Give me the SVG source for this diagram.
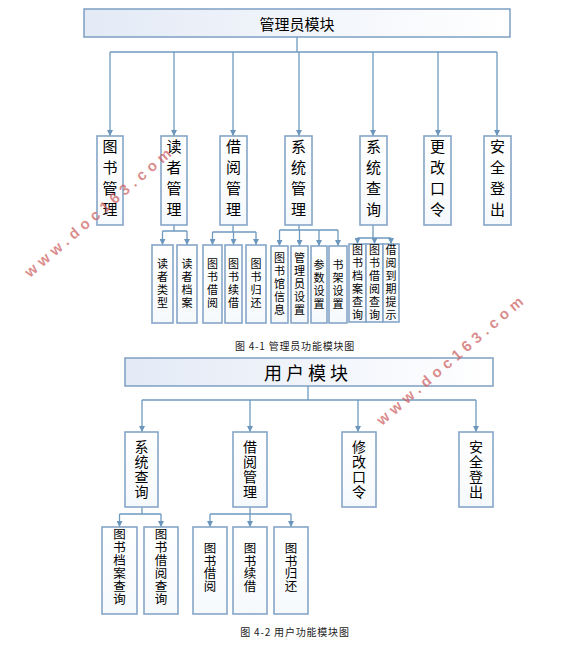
<svg xmlns="http://www.w3.org/2000/svg" width="571" height="645" viewBox="0 0 571 645">
<defs>
<linearGradient id="hdr" x1="0" y1="0" x2="1" y2="0">
<stop offset="0" stop-color="#e3eaf6"/>
<stop offset="1" stop-color="#ffffff"/>
</linearGradient>
<linearGradient id="bx" x1="0" y1="0" x2="0" y2="1">
<stop offset="0" stop-color="#ffffff"/>
<stop offset="1" stop-color="#f6f9fc"/>
</linearGradient>
<marker id="ah" markerUnits="userSpaceOnUse" markerWidth="7" markerHeight="6" refX="6" refY="3" orient="auto">
<path d="M0,0 L6,3 L0,6 Z" fill="#6b96bd"/>
</marker>
</defs>
<style>
.hdr{fill:url(#hdr);stroke:#7d9fc2;stroke-width:1.5}
.bx{fill:url(#bx);stroke:#86a6c8;stroke-width:1.6}
.t{font-family:"Noto Sans CJK SC","Noto Sans",sans-serif;fill:#000;text-anchor:middle;dominant-baseline:central}
.v{font-family:"Noto Sans CJK SC","Noto Sans",sans-serif;fill:#000;text-anchor:middle;writing-mode:vertical-rl;text-orientation:upright}
.l1{font-size:15px;letter-spacing:6px}
.l2{font-size:11px;letter-spacing:2px}
.u1{font-size:14px;letter-spacing:1px}
.u2{font-size:12.5px;letter-spacing:0.4px}
.cap{font-family:"Noto Sans CJK SC","Noto Sans",sans-serif;font-size:10px;fill:#222;text-anchor:middle;dominant-baseline:central;letter-spacing:0.8px}
.ln{fill:none;stroke:#6f9ac0;stroke-width:1.3}
.ar{marker-end:url(#ah)}
.wm{font-family:"Liberation Sans",Arial,sans-serif;font-weight:bold;font-size:15px;fill:#cc5f5f;fill-opacity:0.72;text-anchor:middle;dominant-baseline:central}
</style>

<g id="connectors">
<path class="ln" d="M297 37 V52 M110 52 H497"/>
<path class="ln ar" d="M110 52 V136"/>
<path class="ln ar" d="M174 52 V136"/>
<path class="ln ar" d="M233 52 V136"/>
<path class="ln ar" d="M299 52 V136"/>
<path class="ln ar" d="M373 52 V136"/>
<path class="ln ar" d="M438 52 V136"/>
<path class="ln ar" d="M497 52 V136"/>
<path class="ln" d="M174 225 V231 M162.5 231 H187"/>
<path class="ln ar" d="M162.5 231 V245"/>
<path class="ln ar" d="M187 231 V245"/>
<path class="ln" d="M233 225 V232 M212.5 232 H256"/>
<path class="ln ar" d="M212.5 232 V245"/>
<path class="ln ar" d="M233.5 232 V245"/>
<path class="ln ar" d="M256 232 V245"/>
<path class="ln" d="M299 225 V230 M279.5 230 H338"/>
<path class="ln ar" d="M279.5 230 V246"/>
<path class="ln ar" d="M299.5 230 V246"/>
<path class="ln ar" d="M319 230 V246"/>
<path class="ln ar" d="M338 230 V246"/>
<path class="ln" d="M373 225 V238 M357.5 238 H391"/>
<path class="ln ar" d="M357.5 238 V244"/>
<path class="ln ar" d="M374.5 238 V244"/>
<path class="ln ar" d="M391 238 V244"/>
<path class="ln" d="M308 386 V400 M142 400 H476"/>
<path class="ln ar" d="M142 400 V432"/>
<path class="ln ar" d="M250 400 V432"/>
<path class="ln ar" d="M358 400 V432"/>
<path class="ln ar" d="M476 400 V432"/>
<path class="ln" d="M142 507 V514 M119.5 514 H161"/>
<path class="ln ar" d="M119.5 514 V527"/>
<path class="ln ar" d="M161 514 V527"/>
<path class="ln" d="M250 507 V514 M210 514 H291"/>
<path class="ln ar" d="M210 514 V527"/>
<path class="ln ar" d="M250 514 V527"/>
<path class="ln ar" d="M291 514 V527"/>
</g>

<g id="admin">
<rect class="hdr" x="84" y="9" width="426" height="28"/>
<text class="t" x="297" y="23" font-size="15">管理员模块</text>
</g>
<g id="a-tsgl"><rect class="bx" x="97" y="136" width="26" height="89"/><text class="v l1" x="110" y="181">图书管理</text></g>
<g id="a-dzgl"><rect class="bx" x="161" y="136" width="26" height="89"/><text class="v l1" x="174" y="181">读者管理</text></g>
<g id="a-jygl"><rect class="bx" x="220" y="136" width="27" height="89"/><text class="v l1" x="233.5" y="181">借阅管理</text></g>
<g id="a-xtgl"><rect class="bx" x="285" y="136" width="27" height="89"/><text class="v l1" x="298.5" y="181">系统管理</text></g>
<g id="a-xtcx"><rect class="bx" x="360" y="136" width="27" height="89"/><text class="v l1" x="373.5" y="181">系统查询</text></g>
<g id="a-ggkl"><rect class="bx" x="424" y="136" width="27" height="89"/><text class="v l1" x="437.5" y="181">更改口令</text></g>
<g id="a-aqdc"><rect class="bx" x="484" y="136" width="27" height="89"/><text class="v l1" x="497.5" y="181">安全登出</text></g>

<g id="a-dzlx"><rect class="bx" x="152" y="245" width="21" height="78"/><text class="v l2" x="162.5" y="284">读者类型</text></g>
<g id="a-dzda"><rect class="bx" x="177" y="245" width="20" height="78"/><text class="v l2" x="187" y="284">读者档案</text></g>
<g id="a-tsjy"><rect class="bx" x="203" y="245" width="19" height="78"/><text class="v l2" x="212.5" y="284">图书借阅</text></g>
<g id="a-tsxj"><rect class="bx" x="225" y="245" width="17" height="78"/><text class="v l2" x="233.5" y="284">图书续借</text></g>
<g id="a-tsgh"><rect class="bx" x="246" y="245" width="20" height="78"/><text class="v l2" x="256" y="284">图书归还</text></g>
<g id="a-tsgxx"><rect class="bx" x="271" y="246" width="17" height="77"/><text class="v l2" x="279.5" y="284.5">图书馆信息</text></g>
<g id="a-glysz"><rect class="bx" x="291" y="246" width="17" height="77"/><text class="v l2" x="299.5" y="284.5">管理员设置</text></g>
<g id="a-cssz"><rect class="bx" x="311" y="246" width="16" height="77"/><text class="v l2" x="319" y="285">参数设置</text></g>
<g id="a-sjsz"><rect class="bx" x="329" y="246" width="18" height="77"/><text class="v l2" x="338" y="285">书架设置</text></g>
<g id="a-tsdacx"><rect class="bx" x="349" y="244" width="17" height="78"/><text class="v l2" x="357.5" y="283">图书档案查询</text></g>
<g id="a-tsjycx"><rect class="bx" x="366" y="244" width="17" height="78"/><text class="v l2" x="374.5" y="283">图书借阅查询</text></g>
<g id="a-jydqts"><rect class="bx" x="383" y="244" width="16" height="78"/><text class="v l2" x="391" y="283">借阅到期提示</text></g>

<text class="cap" x="295" y="345">图 4-1 管理员功能模块图</text>

<g id="user">
<rect class="hdr" x="125" y="358" width="368" height="28"/>
<text class="t" x="308" y="372" font-size="18" letter-spacing="4">用户模块</text>
</g>
<g id="u-xtcx"><rect class="bx" x="125" y="432" width="33" height="75"/><text class="v u1" x="141.5" y="469.5">系统查询</text></g>
<g id="u-jygl"><rect class="bx" x="233" y="432" width="34" height="75"/><text class="v u1" x="250" y="469.5">借阅管理</text></g>
<g id="u-xgkl"><rect class="bx" x="342" y="432" width="34" height="75"/><text class="v u1" x="359" y="469.5">修改口令</text></g>
<g id="u-aqdc"><rect class="bx" x="459" y="432" width="34" height="75"/><text class="v u1" x="476" y="469.5">安全登出</text></g>

<g id="u-tsdacx"><rect class="bx" x="102" y="527" width="35" height="87"/><text class="v u2" x="119.5" y="567">图书档案查询</text></g>
<g id="u-tsjycx"><rect class="bx" x="144" y="527" width="34" height="87"/><text class="v u2" x="161" y="567">图书借阅查询</text></g>
<g id="u-tsjy"><rect class="bx" x="193" y="527" width="34" height="87"/><text class="v u2" x="210" y="567.5">图书借阅</text></g>
<g id="u-tsxj"><rect class="bx" x="233" y="527" width="34" height="87"/><text class="v u2" x="250" y="567.5">图书续借</text></g>
<g id="u-tsgh"><rect class="bx" x="274" y="527" width="34" height="87"/><text class="v u2" x="291" y="567.5">图书归还</text></g>

<text class="cap" x="295" y="631">图 4-2 用户功能模块图</text>

<text class="wm" transform="translate(97.5,212.5) rotate(-40.8)" x="0" y="0" textLength="188" lengthAdjust="spacing">www.doc163.com</text>
<text class="wm" transform="translate(449.5,360.5) rotate(-40.8)" x="0" y="0" textLength="188" lengthAdjust="spacing">www.doc163.com</text>
</svg>
